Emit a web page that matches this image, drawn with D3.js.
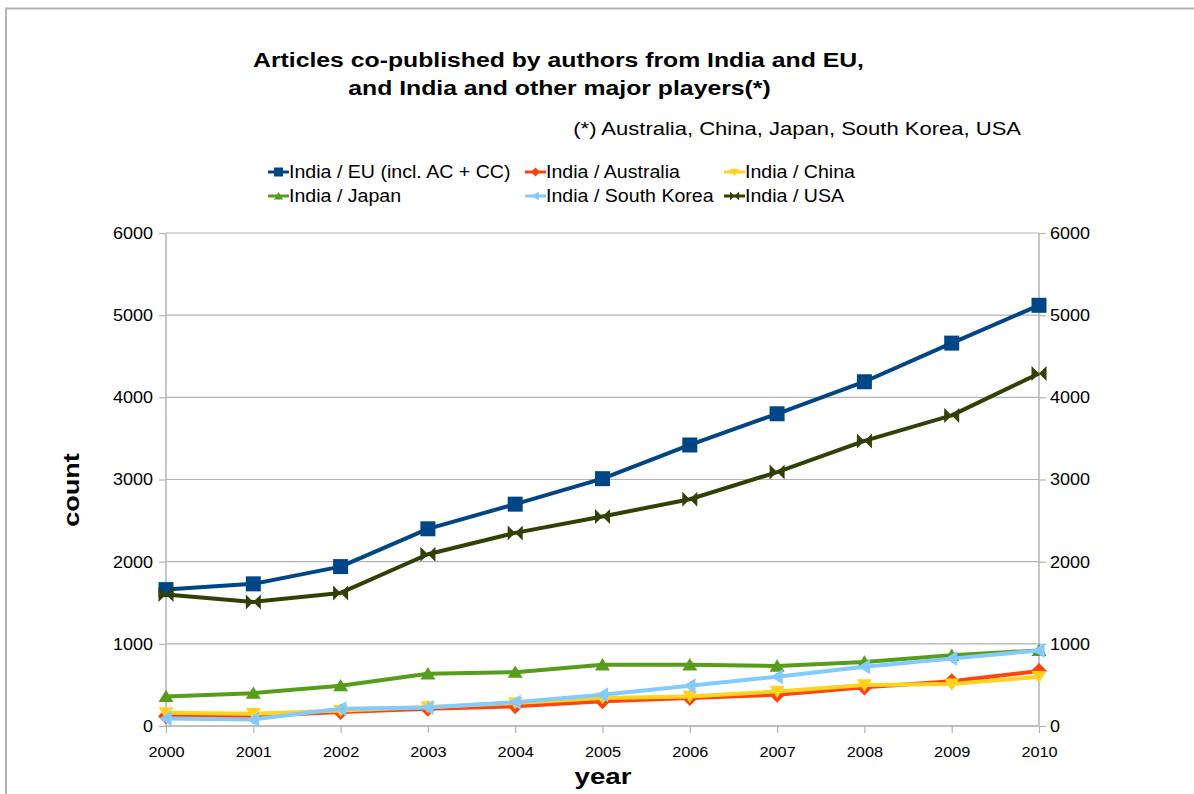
<!DOCTYPE html>
<html>
<head>
<meta charset="utf-8">
<script src="https://cdn.jsdelivr.net/npm/d3@7/dist/d3.min.js"></script>
<style>
  html, body { margin: 0; padding: 0; background: #fff; }
  svg { display: block; font-family: "Liberation Sans", Arial, sans-serif; }
</style>
</head>
<body>
<svg id="chart" width="1194" height="794"></svg>
<script>
// Co-publication counts per year
const years = [2000, 2001, 2002, 2003, 2004, 2005, 2006, 2007, 2008, 2009, 2010];
const euValues        = [1660, 1730, 1940, 2400, 2700, 3010, 3420, 3800, 4190, 4660, 5120];
const australiaValues = [120, 120, 170, 210, 240, 300, 340, 380, 470, 545, 670];
const chinaValues     = [160, 150, 190, 230, 280, 340, 360, 420, 500, 510, 600];
const japanValues     = [360, 400, 490, 635, 655, 745, 745, 730, 780, 860, 920];
const koreaValues     = [90, 80, 210, 225, 290, 380, 490, 600, 720, 820, 920];
const usaValues       = [1600, 1510, 1620, 2090, 2350, 2550, 2760, 3090, 3470, 3780, 4290];
const yTicks = [0, 1000, 2000, 3000, 4000, 5000, 6000];

const series = [
  { name: "India / EU (incl. AC + CC)", values: euValues,        color: "#004586", marker: "square" },
  { name: "India / Australia",          values: australiaValues, color: "#ff420e", marker: "diamond" },
  { name: "India / China",              values: chinaValues,     color: "#ffd320", marker: "down" },
  { name: "India / Japan",              values: japanValues,     color: "#579d1c", marker: "up" },
  { name: "India / South Korea",        values: koreaValues,     color: "#83caff", marker: "left" },
  { name: "India / USA",                values: usaValues,       color: "#314004", marker: "bowtie" }
];

const svg = d3.select("#chart");

// text drawn slightly widened, as in the exported chart
function label(x, y, str, opt) {
  const o = Object.assign({ size: 16, weight: "normal", anchor: "start", sx: 1.15, rotate: 0 }, opt);
  return svg.append("text")
    .attr("transform", `translate(${x},${y}) rotate(${o.rotate}) scale(${o.sx},1)`)
    .attr("font-size", o.size).attr("font-weight", o.weight)
    .attr("text-anchor", o.anchor).attr("fill", "#000").text(str);
}

// outer frame
svg.append("path")
  .attr("d", "M6,800 V8.5 H1200")
  .attr("fill", "none").attr("stroke", "#b3b3b3").attr("stroke-width", 2);

const x = d3.scalePoint().domain(years).range([166, 1039]);
const y = d3.scaleLinear().domain([0, 6000]).range([726, 233]);

// horizontal grid
svg.append("g").selectAll("line").data(yTicks).join("line")
  .attr("x1", 166).attr("x2", 1039)
  .attr("y1", d => y(d)).attr("y2", d => y(d))
  .attr("stroke", "#b3b3b3").attr("stroke-width", 1.2);

// axes
const leftAxis = svg.append("g").attr("transform", "translate(166,0)")
  .call(d3.axisLeft(y).tickValues(yTicks).tickSize(7).tickPadding(6).tickFormat(d3.format("d")));
const rightAxis = svg.append("g").attr("transform", "translate(1039,0)")
  .call(d3.axisRight(y).tickValues(yTicks).tickSize(7).tickPadding(4).tickFormat(d3.format("d")));
const bottomAxis = svg.append("g").attr("transform", "translate(0,726)")
  .call(d3.axisBottom(x).tickSize(7).tickPadding(13).tickFormat(d3.format("d")));

[leftAxis, rightAxis, bottomAxis].forEach(g => {
  g.select(".domain").attr("stroke", "#b3b3b3").attr("stroke-width", 1.5);
  g.selectAll(".tick line").attr("stroke", "#b3b3b3").attr("stroke-width", 1.2);
  g.selectAll("text").attr("fill", "#000")
    .attr("font-family", "Liberation Sans, Arial, sans-serif");
});
leftAxis.select(".domain").attr("d", "M0,726V233");
rightAxis.select(".domain").attr("d", "M0,726V233");
bottomAxis.select(".domain").attr("d", "M166,0H1039");

// widen tick labels around their anchor point
[leftAxis, rightAxis].forEach(g => {
  g.selectAll(".tick text").attr("font-size", 17).each(function () {
    const t = d3.select(this);
    const tx = +t.attr("x");
    t.attr("x", 0).attr("transform", `translate(${tx},0) scale(1.06,1)`);
  });
});
bottomAxis.selectAll(".tick text").attr("font-size", 15.5).attr("transform", "scale(1.05,1)");

// marker shapes
function markerPath(type, s) {
  switch (type) {
    case "square":  return `M${-s},${-s}H${s}V${s}H${-s}Z`;
    case "diamond": return `M0,${-s}L${s},0L0,${s}L${-s},0Z`;
    case "down":    return `M${-s},${-s * 0.75}H${s}L0,${s * 0.9}Z`;
    case "up":      return `M${-s},${s * 0.75}H${s}L0,${-s * 0.9}Z`;
    case "left":    return `M${s * 0.75},${-s}V${s}L${-s * 0.9},0Z`;
    case "bowtie":  return `M${-s},${-s}L${s},${s}V${-s}L${-s},${s}Z`;
  }
}

const line = d3.line().x((d, i) => x(years[i])).y(d => y(d));
const plot = svg.append("g");
series.forEach(s => {
  const g = plot.append("g");
  g.append("path").attr("d", line(s.values))
    .attr("fill", "none").attr("stroke", s.color).attr("stroke-width", 4)
    .attr("stroke-linejoin", "round");
  g.selectAll("path.m").data(s.values).join("path").attr("class", "m")
    .attr("transform", (d, i) => `translate(${x(years[i])},${y(d)})`)
    .attr("d", markerPath(s.marker, s.marker === "diamond" ? 8 : 7.5))
    .attr("fill", s.color);
});

// titles
label(558.5, 67, "Articles co-published by authors from India and EU,", { size: 21, weight: "bold", anchor: "middle", sx: 1.18 });
label(559.5, 95, "and India and other major players(*)", { size: 21, weight: "bold", anchor: "middle", sx: 1.18 });
label(1021, 135, "(*) Australia, China, Japan, South Korea, USA", { size: 18.5, anchor: "end", sx: 1.19 });

// axis titles
label(603, 784, "year", { size: 22, weight: "bold", anchor: "middle", sx: 1.26 });
label(79, 490, "count", { size: 22, weight: "bold", anchor: "middle", sx: 1.23, rotate: -90 });

// legend
const legendCols = [268, 525, 724];
const legendRows = [172, 196];
series.forEach((s, i) => {
  const lx = legendCols[i % 3], ly = legendRows[Math.floor(i / 3)];
  const g = svg.append("g").attr("transform", `translate(${lx},${ly})`);
  g.append("line").attr("x1", 0).attr("x2", 21).attr("y1", 0).attr("y2", 0)
    .attr("stroke", s.color).attr("stroke-width", 3);
  g.append("path").attr("transform", "translate(10.5,0)")
    .attr("d", markerPath(s.marker, 4.5)).attr("fill", s.color);
  g.append("text").attr("transform", "translate(21,6.3) scale(1.12,1)")
    .attr("font-size", 17.5).attr("fill", "#000").text(s.name);
});
</script>
</body>
</html>
